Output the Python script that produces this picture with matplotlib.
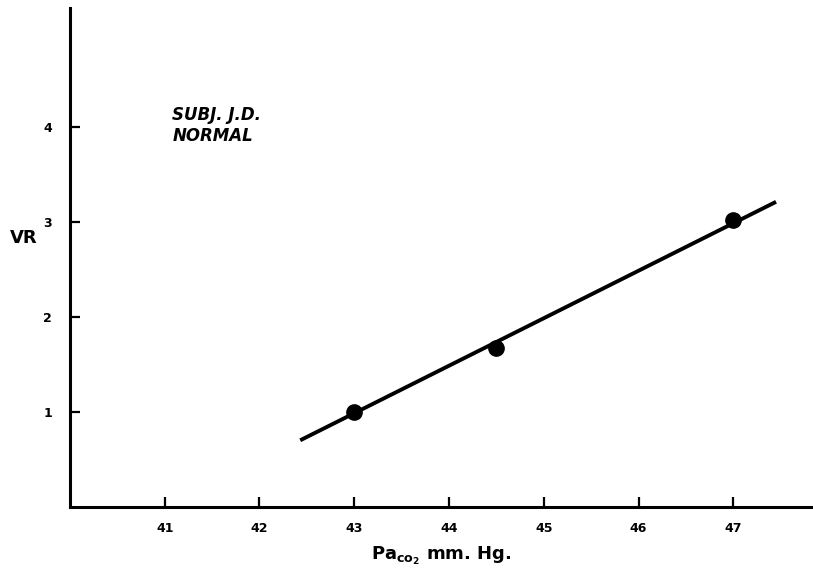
import matplotlib.pyplot as plt

# measured points
paco2 = [43.0, 44.5, 47.0]
vr = [1.0, 1.67, 3.02]

# fitted line ends
fit_x = [42.43, 47.45]
fit_y = [0.70, 3.21]

xticks = [41, 42, 43, 44, 45, 46, 47]
yticks = [1, 2, 3, 4]

fig = plt.figure(figsize=(8.13, 5.72), dpi=100)
ax = fig.add_axes([0.086, 0.114, 0.914, 0.872])

ax.plot(fit_x, fit_y, color='black', lw=2.8, solid_capstyle='butt')
ax.plot(paco2, vr, 'o', color='black', ms=11)

ax.set_xlim(40, 47.84)
ax.set_ylim(0, 5.25)
ax.set_xticks(xticks)
ax.set_yticks(yticks)
ax.set_xticklabels([str(t) for t in xticks], fontsize=9, fontweight='bold')
ax.set_yticklabels([str(t) for t in yticks], fontsize=9, fontweight='bold')
ax.tick_params(axis='x', direction='in', length=7, width=1.6, pad=11)
ax.tick_params(axis='y', direction='in', length=7, width=1.6, pad=13)

for s in ['top', 'right']:
    ax.spines[s].set_visible(False)
for s in ['left', 'bottom']:
    ax.spines[s].set_linewidth(2.2)

ax.set_xlabel(r'Pa$_{\mathbf{co_2}}$ mm. Hg.', fontsize=13, fontweight='bold', labelpad=7)
ax.set_ylabel('VR', fontsize=13, fontweight='bold', rotation=0, labelpad=22)
ax.yaxis.set_label_coords(-0.062, 0.52)

ax.text(41.08, 4.22, 'SUBJ. J.D.\nNORMAL', fontsize=12, fontweight='bold',
        fontstyle='italic', va='top', ha='left', linespacing=1.2)

fig.savefig('out.png', dpi=100)
